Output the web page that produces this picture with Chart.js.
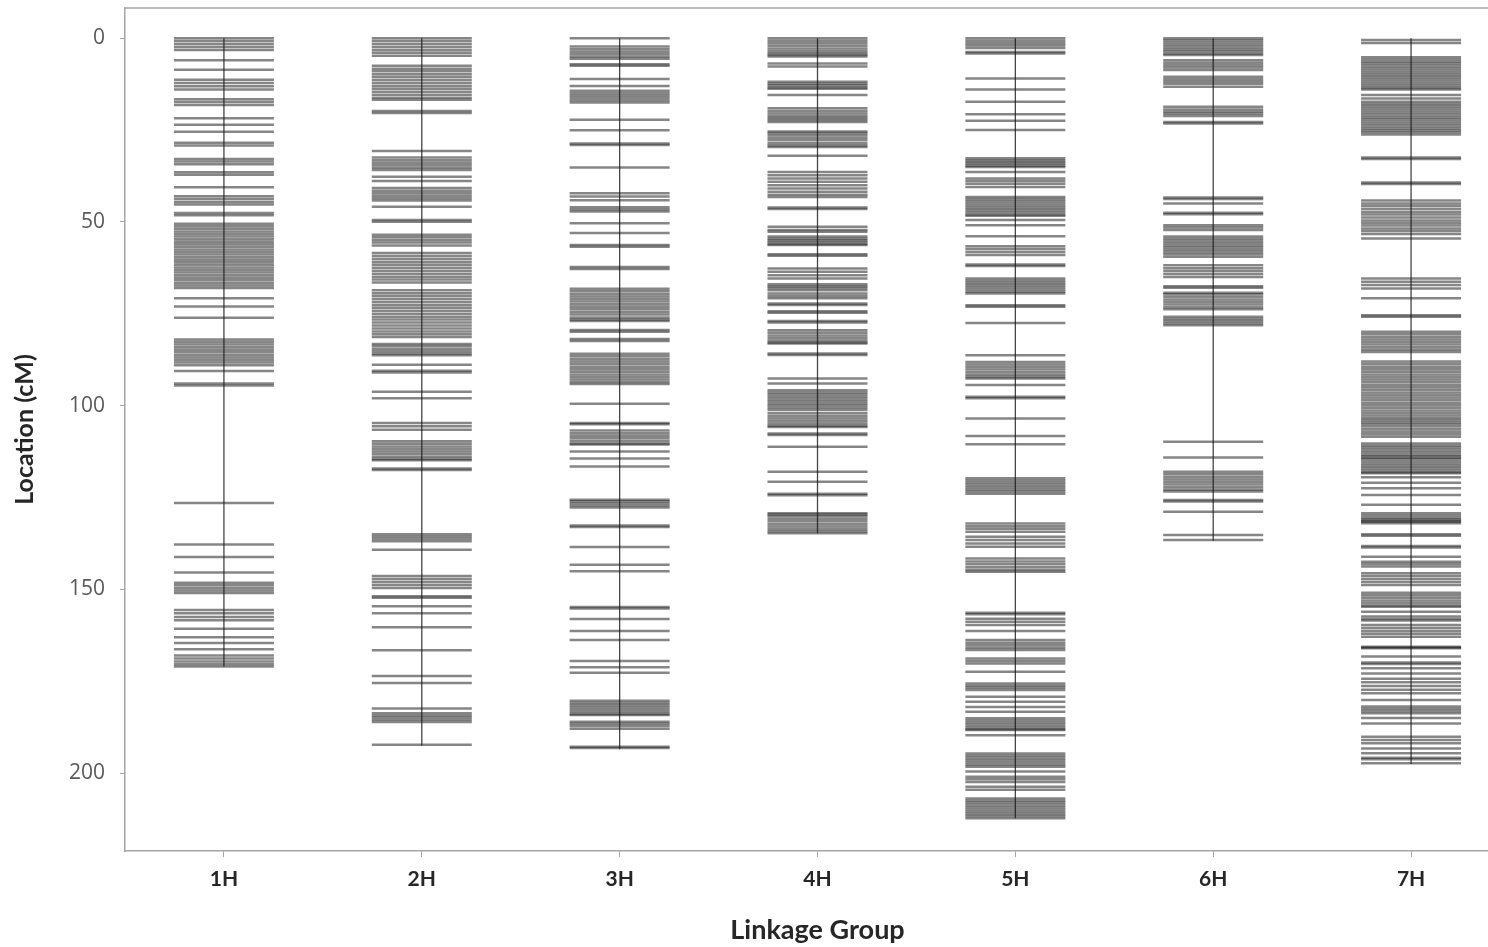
<!DOCTYPE html>
<html>
<head>
<meta charset="utf-8">
<title>Linkage map</title>
<script src="https://cdn.jsdelivr.net/npm/chart.js@4.4.1/dist/chart.umd.min.js"></script>
<style>
  html,body{margin:0;padding:0;background:#fff;overflow:hidden;}
  #wrap{width:1510px;height:947px;position:relative;}
</style>
</head>
<body>
<div id="wrap"><canvas id="mapChart"></canvas></div>
<script>
// ===== Data =====
const groups = ["1H","2H","3H","4H","5H","6H","7H"];
const yTicks = [0,50,100,150,200];
const groupLength = [171,192.5,193.5,134.7,212.3,136.8,197.5];

const pos1H = [0,0.8,1.6,2.4,3.2,6,8.6,11.3,12.2,13.1,14,16.6,17.4,18.2,21.8,23.6,25.5,28.5,29.2,32.9,33.6,34.3,36.5,37.2,40.6,43,43.8,44.6,45.3,47.6,48.2,50.5,51.2,51.9,52.6,53.3,54,54.7,55.4,56.1,56.8,57.5,58.2,58.9,59.6,60.3,61,61.7,62.4,63.1,63.8,64.5,65.2,65.9,66.6,67.3,68,70.8,73,76.1,82,82.7,83.4,84.1,84.8,85.5,86.2,86.9,87.6,88.3,89,90.6,94,94.5,126.5,137.8,141.2,145.4,148.2,148.9,149.6,150.3,151,155.6,156.5,157.5,158.4,160.7,163,164.6,166.3,168,168.8,169.6,170.4,171];
const pos2H = [0,0.8,1.6,2.4,3.2,4,4.8,7.5,8.3,9,9.8,10.6,11.4,12.2,13,13.8,14.6,15.4,16.2,16.8,19.8,20.4,30.7,32.5,33.2,33.9,34.6,35.3,35.9,37.7,38.9,40.8,41.5,42.2,42.9,43.6,44.2,45.9,49.5,50,53.5,54.2,54.9,55.6,56.4,58.5,59.3,60.1,60.9,61.7,62.5,63.3,64.1,64.9,65.7,66.5,68.6,69.4,70.2,71,71.8,72.6,73.4,74.2,75,75.8,76.6,77.4,78.2,79,79.8,80.6,81.3,83.2,83.8,84.5,85.2,85.8,86.3,88.9,90.5,91,96.2,98,104.7,105.6,106.6,109.7,110.4,111.1,111.8,112.5,113.2,113.9,114.5,114.9,117.1,117.5,135,135.6,136.2,136.9,139.2,146.4,147.2,148,148.8,149.6,151.9,152.3,154.6,156.5,160.3,166.6,173.6,175.5,182.4,183.7,184.3,184.9,185.5,186.1,192.3];
const pos3H = [0,2.3,3,3.7,4.4,5.1,5.6,7.1,7.5,11.1,13,14.3,15,15.6,16.2,16.9,17.5,22.2,25.1,28.7,29.1,35.2,42.2,43.1,44.1,46,46.6,47.2,50.4,53,56.3,56.8,62.3,62.8,68.2,68.9,69.6,70.3,71,71.7,72.4,73.1,73.8,74.5,75.2,76,76.6,77,79.4,79.9,81.9,82.4,85.9,86.6,87.3,88,88.7,89.4,90.1,90.8,91.5,92.2,92.9,93.6,94.1,99.5,104.7,105.1,106.8,107.5,108.2,108.9,109.6,110.3,110.6,112.5,114.4,116.6,125.6,126,126.6,127.2,127.7,132.6,133,138.5,143.3,145.1,154.8,155.2,158.1,161.3,163.8,169.5,171.2,172.7,180.3,180.9,181.5,182.1,182.7,183.3,183.9,184.2,186,186.6,187.2,187.9,192.8,193.2];
const pos4H = [0,0.7,1.4,2.1,2.8,3.5,4.1,4.6,5,6.9,7.7,11.9,12.4,12.9,13.4,13.8,15.5,19.1,19.8,20.5,21.2,21.7,22.3,22.8,25.4,25.8,26.4,27.1,27.8,28.6,29.2,29.6,32,36.4,37.3,38.2,39.1,40,40.9,41.8,42.6,43.2,46.1,46.5,51.3,52.2,52.7,54,54.5,55,55.5,56,56.3,58.8,59.2,62.7,63.6,64.5,65.4,67,67.5,68,68.6,69.5,70.2,70.8,72.2,72.6,74.3,74.7,77,77.4,79.5,80.2,80.9,81.6,82.3,82.8,83.1,85.8,86.2,92.6,94,95.8,96.4,97,97.6,98.2,98.8,99.4,100,100.6,101.2,102.1,102.8,103.5,104.2,104.9,105.5,105.8,107.6,108,111.2,118,120.7,124,124.4,129.3,129.6,130.1,130.8,131.5,132.2,132.9,133.6,134.2,134.7];
const pos5H = [0,0.7,1.4,2,2.7,3.8,4.2,11,14,17.3,20.7,22.5,25,32.7,33.2,33.7,34.2,34.7,35.1,36.4,38.2,38.9,39.6,40.5,43.2,43.8,44.4,45,45.6,46.2,46.8,47.4,48,48.3,49.5,50.9,53.9,56.6,57.4,58.2,59,61.6,62,65.4,66,66.6,67.2,67.8,68.4,69,69.5,72.7,73.1,77.5,86.3,88.1,88.8,89.5,90.2,90.9,91.6,92.2,92.6,94.4,97.6,98,103.5,108.3,110.5,119.8,120.4,121,121.6,122.2,122.8,123.4,124,132.1,132.8,133.5,134.3,135.7,136.6,137.5,138.4,141.6,142.4,143.2,144,144.7,145.2,156.4,156.8,158,158.8,159.7,161.3,163.8,164.5,165.2,165.9,166.5,168.8,169.5,170.2,172.4,175.6,176.2,176.8,177.4,179.2,180.6,182,183.3,185.1,185.7,186.3,186.9,187.5,188.1,188.3,189.7,194.7,195.3,195.9,196.5,197.1,197.7,198.3,199.6,201,201.7,202.4,203.7,204.5,206.9,207.5,208.1,208.7,209.3,209.9,210.5,211.1,211.7,212.3];
const pos6H = [0,0.6,1.2,1.8,2.4,3,3.6,4.2,4.6,6,6.7,7.4,8,8.7,10.5,11.2,11.8,12.4,13.2,18.7,19.4,20,20.6,21.2,22.8,23.2,43.4,43.8,45,47.5,47.9,50.9,51.5,52.2,54,54.6,55.2,55.8,56.4,57,57.6,58.2,58.8,59.5,61.8,62.6,63.4,64.2,65,67.5,67.9,69.3,69.7,70.4,71.1,71.8,72.5,73.2,73.8,75.8,76.4,77,77.6,78.1,109.8,114.1,118,118.7,119.4,120.1,120.8,121.5,122.2,122.9,123.4,125.7,126.1,128.9,135.2,136.6];
const pos7H = [0.5,1.3,5.2,5.8,6.4,7,7.6,8.2,8.8,9.4,10,10.6,11.2,11.8,12.4,13,13.6,14,15.5,16.4,17.3,17.9,18.5,19.1,19.7,20.3,20.9,21.5,22.1,22.7,23.3,23.9,24.5,25.1,25.6,26.2,32.5,32.9,39.3,39.7,44.2,45,45.7,46.5,47.3,48,48.8,49.6,50.3,51,51.8,52.5,53.3,54.5,65.4,66.3,67.2,68.1,70.8,75.4,75.8,79.9,80.6,81.3,82,82.7,83.4,84.1,84.8,85.4,88,88.7,89.4,90.1,90.8,91.5,92.2,92.9,93.6,94.3,95,95.7,96.4,97.1,97.8,98.5,99.2,99.9,100.6,101.3,102,102.7,103.4,103.9,104.5,105.1,105.7,106.4,107.1,107.8,108.5,110.3,110.9,111.5,112.1,112.7,113.3,113.8,114.2,114.6,115.2,115.8,116.4,117,117.6,118.1,118.4,119.5,121,122.5,124.3,127,129.3,129.9,130.5,131,131.3,131.6,132,135,135.4,138.2,138.6,141.1,142.5,143.1,143.8,145.6,146.4,147.2,148,148.8,150.9,151.6,152.3,153,153.7,154.4,154.7,156.1,157.4,158.1,158.5,159.7,160.5,161.3,162.1,162.9,165.6,165.8,166,168.3,169.9,170.3,171.5,172.9,174.3,175.3,176.3,177.3,178.3,180.1,181.9,182.5,183.1,183.7,185,186.5,190.1,191,191.9,193.3,194.6,195.8,196.2,197.3];

const markerPos = [pos1H,pos2H,pos3H,pos4H,pos5H,pos6H,pos7H];

// ===== Datasets =====
const datasets = [];
// backbone line for each linkage group (drawn on top)
groups.forEach((g,i)=>{
    datasets.push({
        type:"line",
        label:g+" axis",
        data:[{x:i+1,y:0},{x:i+1,y:groupLength[i]}],
        borderColor:"rgba(25,25,25,0.8)",
        borderWidth:1.3,
        pointRadius:0,
        fill:false
    });
});
// markers as short horizontal ticks
groups.forEach((g,i)=>{
    datasets.push({
        type:"scatter",
        label:g,
        data:markerPos[i].map(p=>({x:i+1,y:p})),
        pointStyle:"line",
        pointRadius:50,
        pointBorderWidth:2.5,
        pointBorderColor:"rgba(35,35,35,0.55)",
        pointBackgroundColor:"rgba(0,0,0,0)"
    });
});

// ===== Frame plugin =====
const framePlugin = {
    id:"frame",
    afterDraw(chart){
        const {ctx,chartArea:a} = chart;
        ctx.save();
        ctx.strokeStyle="#a6a6a6";
        ctx.lineWidth=1.5;
        ctx.beginPath();
        ctx.moveTo(a.left,a.top); ctx.lineTo(a.right,a.top);
        ctx.stroke();
        ctx.restore();
    }
};

function noPad(axis){
    axis.paddingTop=0; axis.paddingBottom=0; axis.paddingLeft=0; axis.paddingRight=0;
}

// ===== Chart =====
const ctx = document.getElementById("mapChart").getContext("2d");
new Chart(ctx,{
    data:{datasets},
    plugins:[framePlugin],
    options:{
        responsive:true,
        maintainAspectRatio:false,
        animation:false,
        events:[],
        layout:{autoPadding:false,padding:{top:8,left:0,right:0,bottom:0}},
        plugins:{legend:{display:false},tooltip:{enabled:false}},
        scales:{
            x:{
                type:"linear",
                min:0.5,max:7.5,
                afterBuildTicks:axis=>{axis.ticks=groups.map((g,i)=>({value:i+1}));},
                afterFit:axis=>{axis.height=96; noPad(axis);},
                ticks:{
                    autoSkip:false,
                    padding:10,
                    color:"#262626",
                    font:{family:"Lato",weight:"bold",size:21},
                    callback:v=>groups[v-1]
                },
                grid:{display:true,drawOnChartArea:false,drawTicks:true,tickLength:6,color:"#a6a6a6"},
                border:{display:true,color:"#a6a6a6",width:1.5},
                title:{display:true,text:"Linkage Group",color:"#262626",
                       font:{family:"Lato",weight:"bold",size:27},padding:{top:0,bottom:1}}
            },
            y:{
                type:"linear",
                reverse:true,
                min:-8.2,max:221.2,
                afterBuildTicks:axis=>{axis.ticks=yTicks.map(v=>({value:v}));},
                afterFit:axis=>{axis.width=125; noPad(axis);},
                ticks:{
                    padding:15,
                    color:"#595959",
                    font:{family:"Open Sans",size:21}
                },
                grid:{display:true,drawOnChartArea:false,drawTicks:true,tickLength:5,color:"#a6a6a6"},
                border:{display:true,color:"#a6a6a6",width:1.5},
                title:{display:true,text:"Location (cM)",color:"#262626",
                       font:{family:"Lato",weight:"bold",size:25},padding:{top:10,bottom:0}}
            }
        }
    }
});
</script>
</body>
</html>
